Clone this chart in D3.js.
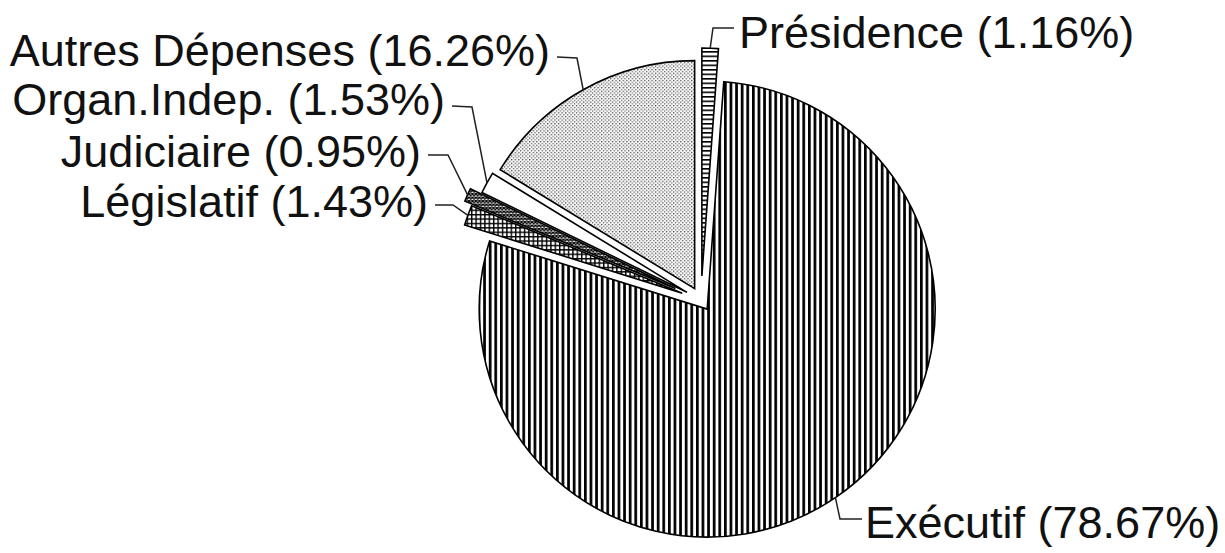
<!DOCTYPE html>
<html>
<head>
<meta charset="utf-8">
<script src="https://cdn.jsdelivr.net/npm/d3@7"></script>
<style>
  body { margin: 0; background: #fff; }
  text { font-family: "Liberation Sans", Arial, Helvetica, sans-serif; }
</style>
</head>
<body>
<div class="budget-pie"></div>
<script>
// data
var categories = ["Présidence", "Exécutif", "Législatif", "Judiciaire", "Organ.Indep.", "Autres Dépenses"];
var shares = [1.16, 78.67, 1.43, 0.95, 1.53, 16.26];

// layout
var width = 1225, height = 553,
    radius = 228, cx = 701, cy = 300;

// how far each slice is pulled out from the centre
var explode = {"Présidence": 24, "Exécutif": 11, "Législatif": 20,
               "Judiciaire": 28, "Organ.Indep.": 16, "Autres Dépenses": 13};

// label text position + leader elbow / end
var labelPos = {
  "Présidence":      {x: 739, y: 48,  anchor: "start", elbow: [713, 28],  end: [734, 28]},
  "Exécutif":        {x: 865, y: 538, anchor: "start", elbow: [840, 519], end: [862, 519]},
  "Législatif":      {x: 428, y: 217, anchor: "end",   elbow: [453, 205], end: [435, 205]},
  "Judiciaire":      {x: 421, y: 167, anchor: "end",   elbow: [448, 155], end: [428, 155]},
  "Organ.Indep.":    {x: 445, y: 115, anchor: "end",   elbow: [472, 107], end: [452, 106]},
  "Autres Dépenses": {x: 550, y: 66,  anchor: "end",   elbow: [577, 58],  end: [557, 57]}
};

var fills = {"Présidence": "url(#hlines)", "Exécutif": "url(#vlines)", "Législatif": "url(#grid)",
             "Judiciaire": "url(#xhatch)", "Organ.Indep.": "#fff", "Autres Dépenses": "url(#dots)"};

var svg = d3.select(".budget-pie").append("svg")
    .attr("width", width)
    .attr("height", height);

// hatch patterns
var defs = svg.append("defs");

var p = defs.append("pattern").attr("id", "vlines").attr("patternUnits", "userSpaceOnUse")
    .attr("width", 5.6).attr("height", 10);
p.append("rect").attr("width", 5.6).attr("height", 10).attr("fill", "#fff");
p.append("rect").attr("x", 0).attr("width", 2.7).attr("height", 10).attr("fill", "#000");

p = defs.append("pattern").attr("id", "hlines").attr("patternUnits", "userSpaceOnUse")
    .attr("width", 10).attr("height", 4.5);
p.append("rect").attr("width", 10).attr("height", 4.5).attr("fill", "#fff");
p.append("rect").attr("y", 0).attr("width", 10).attr("height", 1.6).attr("fill", "#000");

p = defs.append("pattern").attr("id", "grid").attr("patternUnits", "userSpaceOnUse")
    .attr("width", 4.4).attr("height", 4.4);
p.append("rect").attr("width", 4.4).attr("height", 4.4).attr("fill", "#fff");
p.append("rect").attr("width", 4.4).attr("height", 1.4).attr("fill", "#000");
p.append("rect").attr("width", 1.4).attr("height", 4.4).attr("fill", "#000");

p = defs.append("pattern").attr("id", "xhatch").attr("patternUnits", "userSpaceOnUse")
    .attr("width", 3.5).attr("height", 3.5);
p.append("rect").attr("width", 3.5).attr("height", 3.5).attr("fill", "#fff");
p.append("path").attr("d", "M0,0L3.5,3.5M3.5,0L0,3.5").attr("stroke", "#000").attr("stroke-width", 1.3);

p = defs.append("pattern").attr("id", "dots").attr("patternUnits", "userSpaceOnUse")
    .attr("width", 3.6).attr("height", 3.6);
p.append("rect").attr("width", 3.6).attr("height", 3.6).attr("fill", "#fff");
p.append("rect").attr("x", 0).attr("y", 0).attr("width", 1.3).attr("height", 1.3).attr("fill", "#444");
p.append("rect").attr("x", 1.8).attr("y", 1.8).attr("width", 1.3).attr("height", 1.3).attr("fill", "#666");

var data = categories.map(function(c, i) { return {name: c, value: shares[i]}; });

var pie = d3.pie()
    .sort(null)
    .value(function(d) { return d.value; });

var arc = d3.arc().innerRadius(0).outerRadius(radius);

var arcs = pie(data);

function offset(d) {
  var mid = (d.startAngle + d.endAngle) / 2,
      k = explode[d.data.name];
  return [cx + k * Math.sin(mid), cy - k * Math.cos(mid)];
}

var g = svg.append("g");

g.selectAll("path.slice")
    .data(arcs)
    .enter().append("path")
    .attr("class", "slice")
    .attr("transform", function(d) { return "translate(" + offset(d) + ")"; })
    .attr("d", arc)
    .attr("fill", function(d) { return fills[d.data.name]; })
    .attr("stroke", "#000")
    .attr("stroke-width", 1.6)
    .attr("stroke-linejoin", "miter");

// leader lines from the middle of each outer arc
g.selectAll("polyline")
    .data(arcs)
    .enter().append("polyline")
    .attr("points", function(d) {
      var o = offset(d), mid = (d.startAngle + d.endAngle) / 2,
          lp = labelPos[d.data.name],
          a = [o[0] + radius * Math.sin(mid), o[1] - radius * Math.cos(mid)];
      return [a, lp.elbow, lp.end].join(" ");
    })
    .attr("fill", "none")
    .attr("stroke", "#222")
    .attr("stroke-width", 1.5);

g.selectAll("text")
    .data(arcs)
    .enter().append("text")
    .attr("x", function(d) { return labelPos[d.data.name].x; })
    .attr("y", function(d) { return labelPos[d.data.name].y; })
    .attr("text-anchor", function(d) { return labelPos[d.data.name].anchor; })
    .attr("font-size", 45)
    .attr("fill", "#111")
    .text(function(d) { return d.data.name + " (" + d.data.value.toFixed(2) + "%)"; });
</script>
</body>
</html>
